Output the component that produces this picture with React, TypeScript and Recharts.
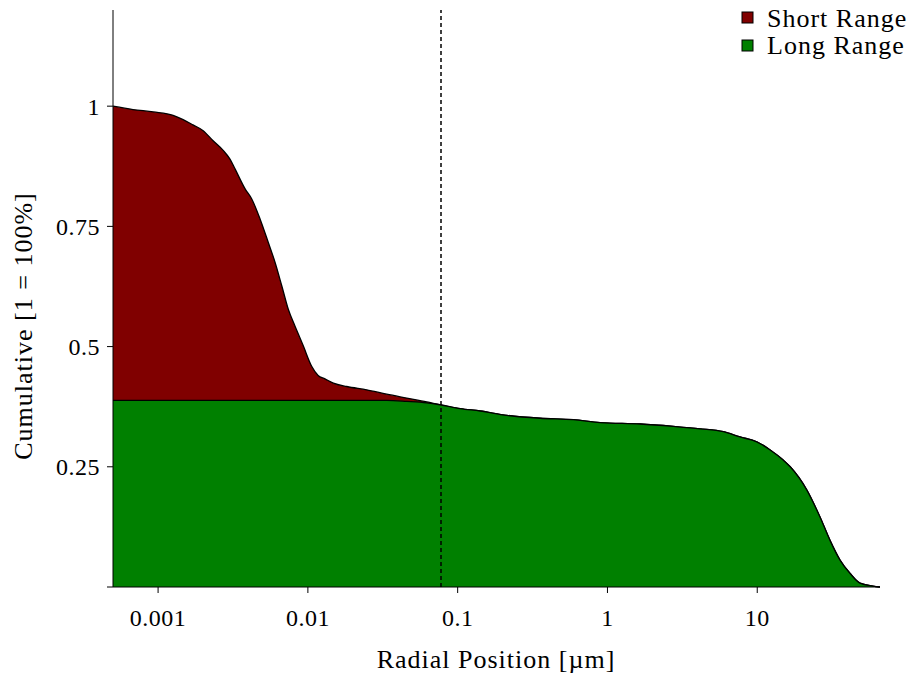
import { ComposedChart, Area, XAxis, YAxis, ReferenceLine } from "recharts"

// radial position in µm (log axis)
const radius = [
  0.0005, 0.00068, 0.00093, 0.00126, 0.00147, 0.00171, 0.002, 0.00233, 0.00272, 0.00302,
  0.00327, 0.00381, 0.00422, 0.0048, 0.00545, 0.00604, 0.0067, 0.00741, 0.00822, 0.00933,
  0.0106, 0.0117, 0.013, 0.0148, 0.0182, 0.0247, 0.0336, 0.0457, 0.0622, 0.0763,
  0.104, 0.141, 0.213, 0.355, 0.592, 0.893, 1.65, 2.75, 4.15, 5.94,
  7.67, 9.93, 12.2, 14.9, 16.6, 21.4, 26.2, 30.6, 35.7, 41.7,
  48.5, 59.3, 66,
]

// cumulative of everything (top of the red area)
const totalCum = [
  1.0, 0.993, 0.988, 0.981, 0.972, 0.961, 0.949, 0.928, 0.908, 0.89,
  0.869, 0.828, 0.807, 0.765, 0.716, 0.675, 0.626, 0.577, 0.542, 0.501,
  0.459, 0.44, 0.433, 0.424, 0.417, 0.41, 0.401, 0.393, 0.385, 0.379,
  0.371, 0.366, 0.357, 0.351, 0.348, 0.342, 0.339, 0.334, 0.329, 0.323,
  0.312, 0.302, 0.285, 0.264, 0.25, 0.202, 0.146, 0.097, 0.056, 0.028,
  0.008, 0.002, 0,
]

// long range contribution (green area)
const longCum = [
  0.388, 0.388, 0.388, 0.388, 0.388, 0.388, 0.388, 0.388, 0.388, 0.388,
  0.388, 0.388, 0.388, 0.388, 0.388, 0.388, 0.388, 0.388, 0.388, 0.388,
  0.388, 0.388, 0.388, 0.388, 0.388, 0.388, 0.388, 0.386, 0.383, 0.379,
  0.371, 0.366, 0.357, 0.351, 0.348, 0.342, 0.339, 0.334, 0.329, 0.323,
  0.312, 0.302, 0.285, 0.264, 0.25, 0.202, 0.146, 0.097, 0.056, 0.028,
  0.008, 0.002, 0,
]

const xTicks = [0.001, 0.01, 0.1, 1, 10]
const yTicks = [0, 0.25, 0.5, 0.75, 1]
const cutoff = 0.0774

const data = radius.map((r, i) => ({ r, total: totalCum[i], long: longCum[i] }))

const font = "Liberation Serif"
const tickStyle = { fill: "#000", fontSize: 24, fontFamily: font, letterSpacing: 0.5 }
const labelStyle = { fontSize: 26, fontFamily: font, fill: "#000", letterSpacing: 1 }

export default function App() {
  return (
    <div style={{ position: "absolute", left: 0, top: 0, width: 916, height: 675, background: "white" }}>
      <ComposedChart width={916} height={675} data={data} margin={{ top: 10, right: 36, bottom: 0, left: 0 }}>
        <XAxis
          dataKey="r"
          type="number"
          scale="log"
          domain={[0.0005, 66]}
          allowDataOverflow
          ticks={xTicks}
          tickFormatter={(v: number) => String(v)}
          height={88}
          stroke="#000"
          tickSize={6}
          tickMargin={16}
          tick={tickStyle}
          label={{
            content: () => (
              <text x={496} y={668} textAnchor="middle" style={labelStyle}>
                Radial Position [µm]
              </text>
            ),
          }}
        />
        <YAxis
          type="number"
          domain={[0, 1.2]}
          ticks={yTicks}
          tickFormatter={(v: number) => (v === 0 ? "" : String(v))}
          width={113}
          stroke="#000"
          tickSize={6}
          tickMargin={7}
          tick={tickStyle}
          label={{
            content: () => (
              <text x={32} y={326} transform="rotate(-90 32 326)" textAnchor="middle" style={labelStyle}>
                Cumulative [1 = 100%]
              </text>
            ),
          }}
        />
        <Area
          dataKey="total"
          type="monotoneX"
          fill="#800000"
          fillOpacity={1}
          stroke="#000"
          strokeWidth={1.3}
          isAnimationActive={false}
        />
        <Area
          dataKey="long"
          type="monotoneX"
          fill="#008000"
          fillOpacity={1}
          stroke="#000"
          strokeWidth={1.3}
          isAnimationActive={false}
        />
        <ReferenceLine x={cutoff} stroke="#000" strokeWidth={1.5} strokeDasharray="4 3" />
      </ComposedChart>
      <svg width={916} height={675} style={{ position: "absolute", left: 0, top: 0, pointerEvents: "none" }}>
        <rect x={742} y={12} width={11} height={11} fill="#800000" stroke="#000" strokeWidth={1} />
        <text x={767} y={27} style={labelStyle}>
          Short Range
        </text>
        <rect x={742} y={40} width={11} height={11} fill="#008000" stroke="#000" strokeWidth={1} />
        <text x={767} y={54} style={labelStyle}>
          Long Range
        </text>
      </svg>
    </div>
  )
}
